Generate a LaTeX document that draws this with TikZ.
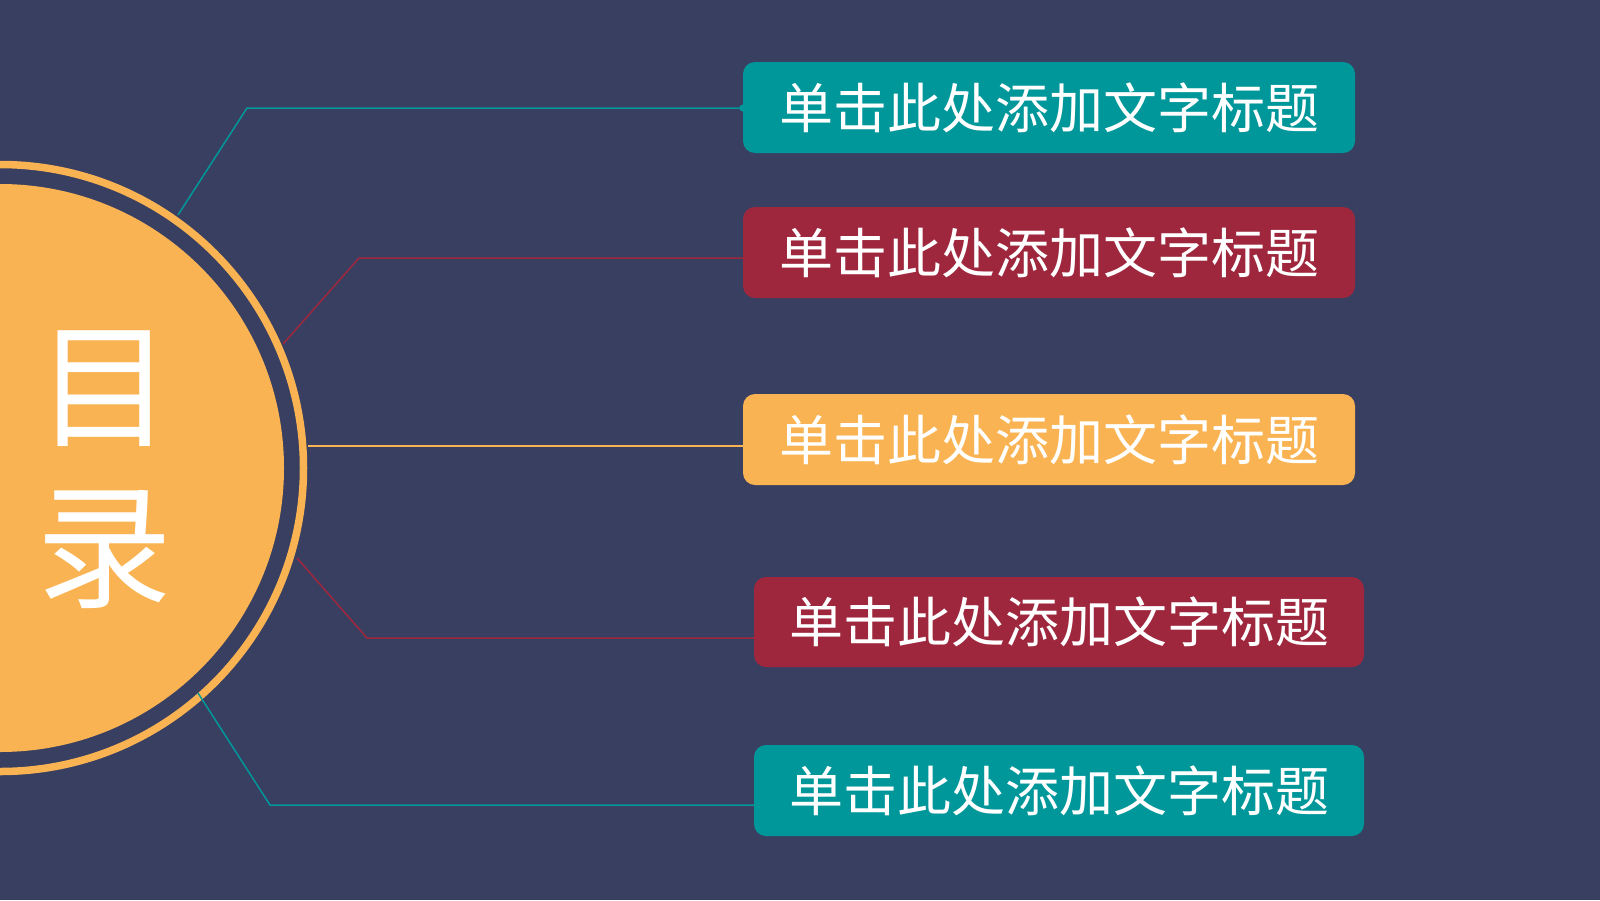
\documentclass[tikz,border=0pt]{standalone}
\usepackage{fontspec}
\setmainfont{Noto Sans CJK SC}
\definecolor{bgc}{HTML}{393F61}
\definecolor{tealc}{HTML}{00979A}
\definecolor{redc}{HTML}{9E273E}
\definecolor{orangec}{HTML}{F9B352}
\begin{document}
\begin{tikzpicture}[x=1pt,y=-1pt,
  titlebox/.style={rounded corners=12pt, minimum width=612pt, minimum height=91pt,
    inner sep=0pt, text=white, font=\fontsize{54}{60}\selectfont},
  link/.style={line width=1.5pt}]
\useasboundingbox (0,0) rectangle (1600,900);
\clip (0,0) rectangle (1600,900);
\fill[bgc] (0,0) rectangle (1600,900);
% circle
\draw[orangec, line width=7.5pt] (0,468) circle (303.5);
\fill[orangec] (0,468) circle (284);
\node[text=white, font=\fontsize{136}{136}\selectfont] (mu) at (104,389) {目};
\node[text=white, font=\fontsize{136}{136}\selectfont] (lu) at (104,549) {录};
% boxes
\node[titlebox, fill=tealc] (b1) at (1049,107.5) {单击此处添加文字标题};
\node[titlebox, fill=redc] (b2) at (1049,252.5) {单击此处添加文字标题};
\node[titlebox, fill=orangec] (b3) at (1049,439.5) {单击此处添加文字标题};
\node[titlebox, fill=redc, minimum width=610pt, minimum height=90pt] (b4) at (1059,622) {单击此处添加文字标题};
\node[titlebox, fill=tealc, minimum width=610pt, minimum height=91pt] (b5) at (1059,790.5) {单击此处添加文字标题};
% connector points
\coordinate (a1) at (178,215);
\coordinate (k1) at (247,108);
\coordinate (a2) at (283,344);
\coordinate (k2) at (359,258);
\coordinate (a3) at (308,446);
\coordinate (a4) at (297,558);
\coordinate (k4) at (367,638);
\coordinate (a5) at (198,693);
\coordinate (k5) at (270,805);
\draw[link, tealc] (a1) -- (k1) -- (k1 -| b1.west);
\fill[tealc] (k1 -| b1.west) circle (3.5);
\draw[link, redc] (a2) -- (k2) -- (k2 -| b2.west);
\draw[link, orangec] (a3) -- (a3 -| b3.west);
\draw[link, redc] (a4) -- (k4) -- (k4 -| b4.west);
\draw[link, tealc] (a5) -- (k5) -- (k5 -| b5.west);
\end{tikzpicture}
\end{document}
